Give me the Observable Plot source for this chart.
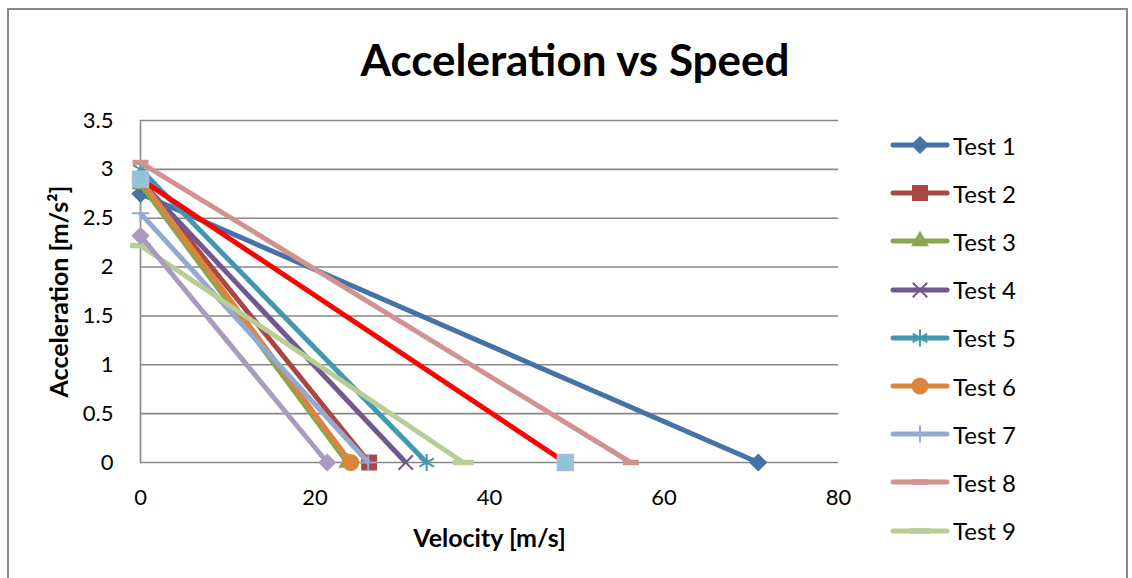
<!DOCTYPE html>
<html><head><meta charset="utf-8">
<script src="https://cdn.jsdelivr.net/npm/d3@7"></script>
<script src="https://cdn.jsdelivr.net/npm/@observablehq/plot@0.6"></script>
<style>
body{margin:0;background:#fff;font-family:Lato,sans-serif;}
#wrap{position:relative;width:1132px;height:578px;overflow:hidden;background:#fff;}
#frame{position:absolute;left:7px;top:8px;width:1121px;height:620px;border:2px solid #8a8a8a;box-sizing:border-box;}
#title{position:absolute;left:0;top:34px;width:1150px;text-align:center;font-weight:bold;font-size:44px;line-height:50px;color:#000;}
#chart{position:absolute;left:0;top:0;}
#chart svg [aria-label="x-axis label"] text, #chart svg [aria-label="y-axis label"] text{font-weight:bold;font-size:25px;}
#legend{position:absolute;left:889px;top:121px;}
.item{display:flex;align-items:center;height:48.2px;}
.item span{font-size:24px;color:#000;margin-left:0px;}
</style></head>
<body><div id="wrap"><div id="frame"></div><div id="chart"></div><div id="title">Acceleration vs Speed</div><div id="legend"></div></div>
<script>
// ---- data ----
const seriesNames = ["Test 1","Test 2","Test 3","Test 4","Test 5","Test 6","Test 7","Test 8","Test 9","Test 10","Test 11"];
const inLegend   = [true,true,true,true,true,true,true,true,true,false,false];
const startVelocity = [0,0,0,0,0,0,0,0,0,0,0];
const startAccel    = [2.75,2.9,2.85,2.88,3.0,2.9,2.55,3.07,2.22,2.32,2.9];
const endVelocity   = [70.8,26.2,23.7,30.4,32.8,24.1,26.1,56.2,37.0,21.4,48.7];
const endAccel      = [0,0,0,0,0,0,0,0,0,0,0];
const xTicks = [0,20,40,60,80];
const yTicks = [0,0.5,1,1.5,2,2.5,3,3.5];

// ---- styles ----
const lineColors   = ["#4572A7","#AA4643","#89A54E","#71588F","#4198AF","#DB843D","#93A9CF","#D19392","#B9CD96","#A99BBD","#FF0000"];
const markerColors = ["#4572A7","#AA4643","#89A54E","#71588F","#4198AF","#DB843D","#93A9CF","#D19392","#B9CD96","#A99BBD","#93C4D6"];
const dashShort = {draw(ctx, size){const r=Math.sqrt(size/Math.PI); ctx.rect(-r,-r*0.34,2*r,r*0.68);}};
const dashLong  = {draw(ctx, size){const r=Math.sqrt(size/Math.PI); ctx.rect(-r*1.3,-r*0.34,2.6*r,r*0.68);}};
const symbols = [d3.symbolDiamond2,d3.symbolSquare,d3.symbolTriangle,d3.symbolTimes,d3.symbolAsterisk,d3.symbolCircle,d3.symbolPlus,dashShort,dashLong,d3.symbolDiamond2,d3.symbolSquare];
const symbolR  = [8.2,9,6.6,6.6,8.0,8.6,5.6,8,8,8.2,9];
const strokeSym = [false,false,false,true,true,false,true,false,false,false,false];
const markerStroke = [null,null,null,null,null,null,null,null,null,null,"#A9BEE3"];

const series = seriesNames.map((name,i)=>[
  {series:name, v:startVelocity[i], a:startAccel[i]},
  {series:name, v:endVelocity[i],   a:endAccel[i]}
]);

const marks = [
  Plot.ruleY(yTicks, {stroke:"#878787", strokeWidth:1.6}),
  Plot.ruleX([0], {stroke:"#878787", strokeWidth:1.6}),
];
series.forEach((pts,i)=>{
  marks.push(Plot.line(pts, {x:"v", y:"a", stroke:lineColors[i], strokeWidth:5, strokeLinecap:"butt", strokeLinejoin:"round"}));
  if (strokeSym[i]) {
    marks.push(Plot.dot(pts, {x:"v", y:"a", symbol:symbols[i], r:symbolR[i], fill:"none", stroke:markerColors[i], strokeWidth:2}));
  } else {
    marks.push(Plot.dot(pts, {x:"v", y:"a", symbol:symbols[i], r:symbolR[i], fill:markerColors[i], stroke:markerStroke[i] || "none", strokeWidth:1.5}));
  }
});
marks.push(Plot.axisX(xTicks, {tickSize:0, tickPadding:27, label:"Velocity [m/s]", labelAnchor:"center", labelOffset:84, labelArrow:"none"}));
marks.push(Plot.axisY(yTicks, {tickSize:0, tickPadding:27, tickFormat:d=>String(d), label:"Acceleration [m/s²]", labelAnchor:"center", labelOffset:90, labelArrow:"none"}));

const chart = Plot.plot({
  width:1132, height:578,
  marginLeft:140, marginRight:294, marginTop:120, marginBottom:116,
  x:{domain:[0,80]},
  y:{domain:[0,3.5]},
  style:{fontFamily:"Lato, sans-serif", fontSize:"22px", color:"#000", background:"transparent", overflow:"visible"},
  marks
});
document.getElementById("chart").appendChild(chart);

// ---- legend ----
const legend = d3.select("#legend");
seriesNames.forEach((name,i)=>{
  if(!inLegend[i]) return;
  const item = legend.append("div").attr("class","item");
  const svg = item.append("svg").attr("width",64).attr("height",24);
  svg.append("line").attr("x1",4).attr("x2",58).attr("y1",12).attr("y2",12)
     .attr("stroke",lineColors[i]).attr("stroke-width",5).attr("stroke-linecap","round");
  const sym = d3.symbol(symbols[i], Math.PI*symbolR[i]*symbolR[i]);
  svg.append("path").attr("d",sym()).attr("transform","translate(31,12)")
     .attr("fill", strokeSym[i] ? "none" : markerColors[i])
     .attr("stroke", strokeSym[i] ? markerColors[i] : "none")
     .attr("stroke-width", 2);
  item.append("span").text(name);
});
</script>
</body></html>
